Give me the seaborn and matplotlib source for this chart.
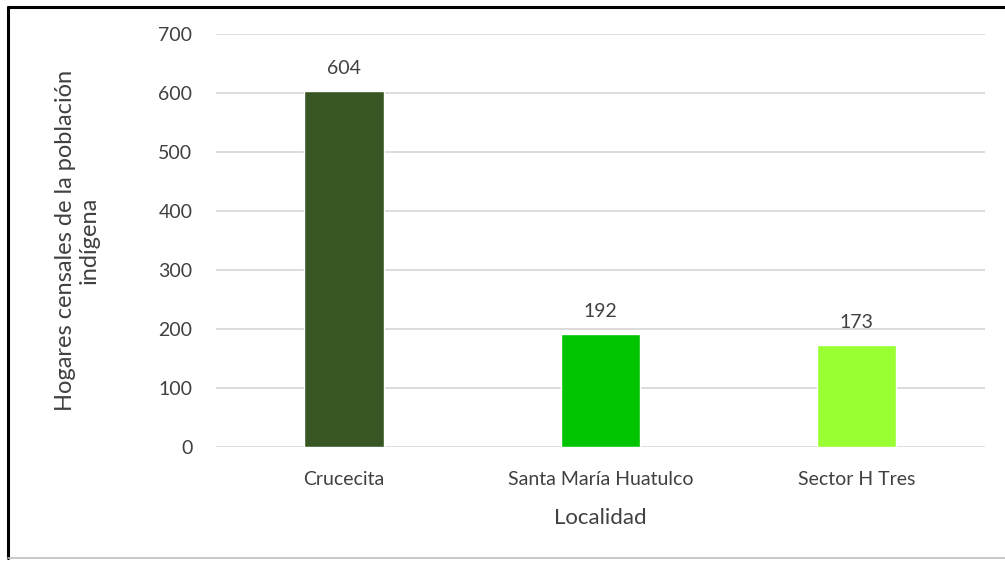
import matplotlib
matplotlib.use("Agg")
import matplotlib.pyplot as plt
from matplotlib.lines import Line2D
import seaborn as sns
import pandas as pd

localidades = ["Crucecita", "Santa María Huatulco", "Sector H Tres"]
hogares = [604, 192, 173]
colores = ["#385623", "#00C400", "#99FF33"]
yticks = [0, 100, 200, 300, 400, 500, 600, 700]

sns.set_theme(style="white")
plt.rcParams["font.family"] = ["Lato", "DejaVu Sans"]

df = pd.DataFrame({"Localidad": localidades, "Hogares": hogares})

fig = plt.figure(figsize=(10.05, 5.61), dpi=100)
ax = fig.add_axes([0.215, 0.2032, 0.765, 0.7358])

sns.barplot(data=df, x="Localidad", y="Hogares", hue="Localidad",
            palette=colores, saturation=1, width=0.31, legend=False,
            ax=ax, zorder=3)

ax.set_ylim(0, 700)
ax.set_yticks(yticks)
ax.yaxis.grid(True, color="#D9D9D9", linewidth=1.3, zorder=0)
ax.set_axisbelow(True)
for s in ax.spines.values():
    s.set_visible(False)
ax.tick_params(axis="both", length=0, labelsize=14, labelcolor="#404040")
ax.tick_params(axis="y", pad=17)
ax.tick_params(axis="x", pad=17)

for p, v in zip(ax.patches, hogares):
    ax.annotate(f"{v}", (p.get_x() + p.get_width() / 2, v),
                xytext=(0, 10), textcoords="offset points",
                ha="center", va="bottom", fontsize=14, color="#404040")

ax.set_xlabel("Localidad", fontsize=16, color="#404040", labelpad=15)
ax.set_ylabel("Hogares censales de la población\nindígena", fontsize=17,
              color="#404040", linespacing=1.15)
ax.yaxis.set_label_coords(-0.152, 0.5)

# outer frame
fig.add_artist(Line2D([0.008, 0.008], [0.005, 0.988], transform=fig.transFigure,
                      color="black", linewidth=2.2))
fig.add_artist(Line2D([0.008, 1.0], [0.988, 0.988], transform=fig.transFigure,
                      color="black", linewidth=2.2))
fig.add_artist(Line2D([0.008, 1.0], [0.005, 0.005], transform=fig.transFigure,
                      color="#BFBFBF", linewidth=1.2))

fig.savefig("out.png", dpi=100, facecolor="white")
